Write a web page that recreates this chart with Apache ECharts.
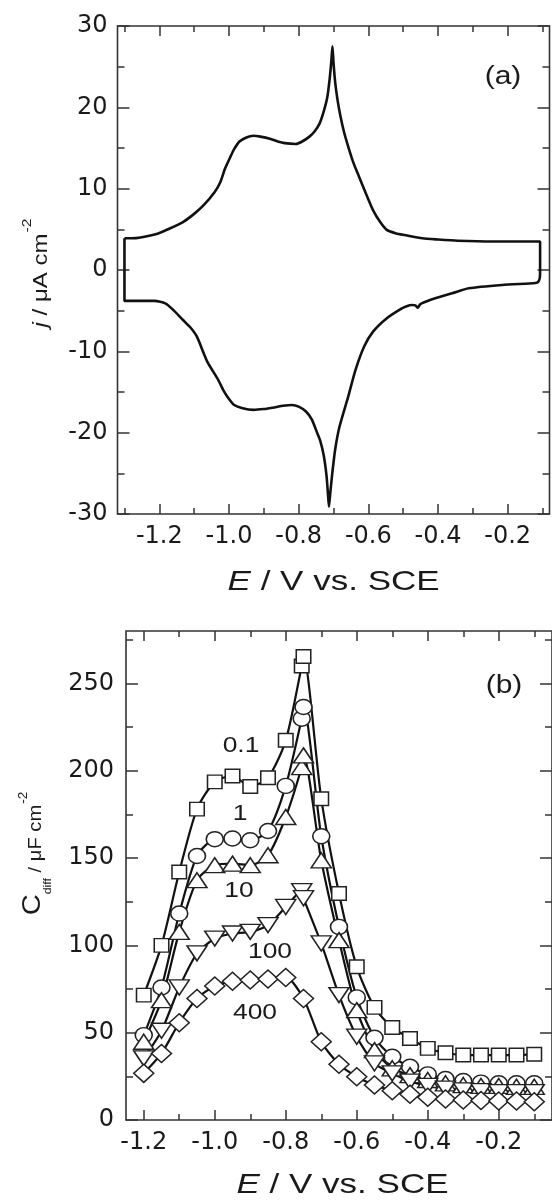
<!DOCTYPE html>
<html><head><meta charset="utf-8">
<script src="https://cdn.jsdelivr.net/npm/echarts@6/dist/echarts.min.js"></script>
<style>html,body{margin:0;padding:0;background:#fff}#c{width:552px;height:1200px}</style>
</head><body><div id="c"></div>
<script>
// ---------- Panel (a): cyclic voltammogram (closed loop, path order) ----------
const cvE = [-1.300,-1.280,-1.254,-1.203,-1.170,-1.132,-1.100,-1.072,-1.041,-1.025,-1.011,-0.995,-0.986,-0.970,-0.950,-0.930,-0.910,-0.880,-0.860,-0.840,-0.809,-0.790,-0.769,-0.755,-0.740,-0.728,-0.718,-0.711,-0.706,-0.703,-0.700,-0.695,-0.688,-0.680,-0.670,-0.658,-0.643,-0.627,-0.607,-0.587,-0.566,-0.546,-0.520,-0.496,-0.445,-0.400,-0.344,-0.243,-0.150,-0.107,
 -0.107,-0.108,-0.113,-0.120,
 -0.216,-0.312,-0.360,-0.408,-0.430,-0.447,-0.452,-0.458,-0.465,-0.475,-0.490,-0.505,-0.546,-0.587,-0.612,-0.637,-0.658,-0.683,-0.695,-0.703,-0.709,-0.713,-0.716,-0.720,-0.728,-0.738,-0.748,-0.762,-0.779,-0.800,-0.819,-0.845,-0.870,-0.900,-0.930,-0.961,-0.985,-1.001,-1.016,-1.031,-1.062,-1.092,-1.110,-1.132,-1.160,-1.183,-1.213,-1.300,-1.300];
const cvJ = [3.9,3.9,4.0,4.5,5.1,5.9,6.9,8.0,9.6,10.8,12.5,14.0,14.8,15.8,16.3,16.5,16.4,16.1,15.8,15.6,15.5,15.8,16.4,17.0,18.0,19.5,21.2,23.5,25.8,27.5,25.5,23.0,20.8,18.9,17.0,15.2,13.2,11.5,9.4,7.4,5.9,4.9,4.5,4.3,3.9,3.75,3.6,3.5,3.5,3.5,
 0,-1.0,-1.5,-1.6,
 -1.84,-2.25,-2.87,-3.48,-3.8,-4.1,-4.25,-4.65,-4.35,-4.3,-4.45,-4.75,-5.9,-7.6,-9.4,-12.3,-15.6,-19.3,-22.0,-24.8,-27.3,-29.1,-27.5,-25.3,-22.8,-21.0,-19.9,-18.4,-17.4,-16.8,-16.6,-16.7,-16.9,-17.1,-17.2,-17.0,-16.6,-15.8,-14.8,-13.5,-11.3,-8.2,-7.1,-6.15,-4.9,-4.1,-3.8,-3.8,3.9];

// ---------- Panel (b): differential capacitance ----------
const capE = [-1.2,-1.15,-1.1,-1.05,-1.0,-0.95,-0.9,-0.85,-0.8,-0.755,-0.75,-0.7,-0.65,-0.6,-0.55,-0.5,-0.45,-0.4,-0.35,-0.3,-0.25,-0.2,-0.15,-0.1];
const cap01  = [71.5,100,142,178,193.6,197,191,196,217.4,260,265.4,184,129.7,87.7,64.5,53,46.7,41,38.5,37.2,37.2,37.2,37.2,37.7];
const cap1   = [48.6,75.9,118.2,151.2,160.8,161.2,160.2,165.5,191.3,229.8,236.5,162.5,110.6,70.2,47.1,36.2,30.5,26.1,23.5,22.3,21.4,21.0,21.0,21.0];
const cap10  = [44.8,68.6,107.7,137.3,145.9,146.8,145.9,151.6,173.5,202.1,208.8,148.7,103,62.9,40.0,29.6,25.7,22.9,21,20,19.5,19.5,19,19];
const cap100 = [35.3,51.1,75.9,95.4,103.9,106.8,107.7,111.6,122,131,127,101.1,71.5,47.7,32.4,26.7,22,19.5,18,17,16.5,16,16,16];
const cap400E = [-1.2,-1.15,-1.1,-1.05,-1.0,-0.95,-0.9,-0.85,-0.8,-0.75,-0.7,-0.65,-0.6,-0.55,-0.5,-0.45,-0.4,-0.35,-0.3,-0.25,-0.2,-0.15,-0.1];
const cap400 = [26.7,38.1,55.7,69.6,76.7,79.5,80.1,80.7,81.6,69.6,44.8,31.9,24.8,20.0,16.8,14.7,13.0,12.0,11.4,11.1,10.9,10.9,10.5];
const seriesNames = ['0.1','1','10','100','400'];

// ---------- ticks ----------
const xMajorTicks = [-1.2,-1.0,-0.8,-0.6,-0.4,-0.2];
const xMinorTicksA = [-1.3,-1.1,-0.9,-0.7,-0.5,-0.3,-0.1];
const xMinorTicksB = [-1.1,-0.9,-0.7,-0.5,-0.3,-0.1];
const yMajorTicksA = [-30,-20,-10,0,10,20,30];
const yMinorTicksA = [-25,-15,-5,5,15,25];
const yMajorTicksB = [0,50,100,150,200,250];
const yMinorTicksB = [25,75,125,175,225,275];

const AX = '#333';
const TXT = '#1a1a1a';
const tickFont = {fontFamily:'DejaVu Sans', fontSize:24, color:TXT};

function xAxesFor(grid, min, max, major, minor, fmt){
  const base = {type:'value', gridIndex:grid, min, max, axisLine:{show:false, onZero:false}, splitLine:{show:false}};
  return [
    Object.assign({}, base, {position:'bottom',
      axisTick:{show:true, inside:true, length:10, customValues:major, lineStyle:{color:AX,width:1.5}},
      axisLabel:Object.assign({show:true, margin:11, customValues:major, formatter:fmt}, tickFont)}),
    Object.assign({}, base, {position:'bottom',
      axisTick:{show:true, inside:true, length:6, customValues:minor, lineStyle:{color:AX,width:1.5}},
      axisLabel:{show:false}}),
    Object.assign({}, base, {position:'top',
      axisTick:{show:true, inside:true, length:10, customValues:major, lineStyle:{color:AX,width:1.5}},
      axisLabel:{show:false}}),
    Object.assign({}, base, {position:'top',
      axisTick:{show:true, inside:true, length:6, customValues:minor, lineStyle:{color:AX,width:1.5}},
      axisLabel:{show:false}})
  ];
}
function yAxesFor(grid, min, max, major, minor, margin){
  const base = {type:'value', gridIndex:grid, min, max, axisLine:{show:false, onZero:false}, splitLine:{show:false}};
  return [
    Object.assign({}, base, {position:'left',
      axisTick:{show:true, inside:true, length:12, customValues:major, lineStyle:{color:AX,width:1.5}},
      axisLabel:Object.assign({show:true, margin:margin, customValues:major, formatter:v=>String(Math.round(v))}, tickFont)}),
    Object.assign({}, base, {position:'left',
      axisTick:{show:true, inside:true, length:7, customValues:minor, lineStyle:{color:AX,width:1.5}},
      axisLabel:{show:false}}),
    Object.assign({}, base, {position:'right',
      axisTick:{show:true, inside:true, length:12, customValues:major, lineStyle:{color:AX,width:1.5}},
      axisLabel:{show:false}}),
    Object.assign({}, base, {position:'right',
      axisTick:{show:true, inside:true, length:7, customValues:minor, lineStyle:{color:AX,width:1.5}},
      axisLabel:{show:false}})
  ];
}
const fmt1 = v => v.toFixed(1);

function zip(xs, ys){ return xs.map((x,i)=>[x, ys[i]]); }

function capSeries(name, xs, ys, symbol, size, rotate){
  return {
    name, type:'line', xAxisIndex:4, yAxisIndex:4,
    data: zip(xs, ys), smooth:0.25,
    symbol, symbolSize:size, symbolRotate:rotate||0, showSymbol:true,
    lineStyle:{color:'#111', width:2.2},
    itemStyle:{color:'#fff', borderColor:'#222', borderWidth:1.5},
    emphasis:{disabled:true}
  };
}

const F = 'Liberation Sans';
function label(text, x, y, size, sx){
  return {type:'text', x, y, scaleX:sx||1.2, z:100,
    style:{text, fill:TXT, font:`${size}px "${F}"`, align:'center', verticalAlign:'middle', textAlign:'center', textVerticalAlign:'middle'}};
}

const option = {
  animation:false,
  backgroundColor:'#fff',
  grid:[
    {left:117.5, top:26, width:432, height:488, show:true, borderColor:AX, borderWidth:1.6, backgroundColor:'transparent'},
    {left:126, top:631, width:433, height:489, show:true, borderColor:AX, borderWidth:1.6, backgroundColor:'transparent'}
  ],
  xAxis: [].concat(
    xAxesFor(0, -1.32, -0.08, xMajorTicks, xMinorTicksA, fmt1),
    xAxesFor(1, -1.25, -0.05, xMajorTicks, xMinorTicksB, fmt1)
  ),
  yAxis: [].concat(
    yAxesFor(0, -30, 30, yMajorTicksA, yMinorTicksA, 10),
    yAxesFor(1, 0, 280, yMajorTicksB, yMinorTicksB, 12)
  ),
  series:[
    {type:'line', xAxisIndex:0, yAxisIndex:0, data:zip(cvE, cvJ), showSymbol:false, symbol:'none',
     smooth:0.2, lineStyle:{color:'#111', width:2.6}},
    capSeries(seriesNames[0], capE, cap01, 'rect', [14.5,13.5]),
    capSeries(seriesNames[1], capE, cap1, 'circle', [17,15]),
    capSeries(seriesNames[2], capE, cap10, 'triangle', [20,15]),
    capSeries(seriesNames[3], capE, cap100, 'triangle', [20,15], 180),
    capSeries(seriesNames[4], cap400E, cap400, 'diamond', [20,18])
  ],
  graphic:[
    label('(a)', 503, 77, 25, 1.2),
    label('(b)', 504, 686, 25, 1.2),
    label(seriesNames[0], 241, 746, 22, 1.2),
    label(seriesNames[1], 240, 814, 22, 1.2),
    label(seriesNames[2], 239, 891, 22, 1.2),
    label(seriesNames[3], 270, 952, 22, 1.2),
    label(seriesNames[4], 255, 1013, 22, 1.2),
    {type:'text', x:333.6, y:582, scaleX:1.25, z:100,
     style:{text:'{i|E}{n| / V vs. SCE}', align:'center', verticalAlign:'middle', textAlign:'center', textVerticalAlign:'middle',
       rich:{i:{fontStyle:'italic', fontSize:28, fontFamily:F, fill:TXT}, n:{fontSize:28, fontFamily:F, fill:TXT}}}},
    {type:'text', x:342.5, y:1185, scaleX:1.25, z:100,
     style:{text:'{i|E}{n| / V vs. SCE}', align:'center', verticalAlign:'middle', textAlign:'center', textVerticalAlign:'middle',
       rich:{i:{fontStyle:'italic', fontSize:28, fontFamily:F, fill:TXT}, n:{fontSize:28, fontFamily:F, fill:TXT}}}},
    {type:'text', x:51, y:273, rotation:Math.PI/2, scaleX:1.2, z:100,
     style:{text:'{i|j}{n| / μA cm}{s|-2}', align:'center', verticalAlign:'bottom', textAlign:'center', textVerticalAlign:'bottom',
       rich:{
         i:{fontStyle:'italic', fontSize:20, lineHeight:20, verticalAlign:'bottom', fontFamily:F, fill:TXT},
         n:{fontSize:20, lineHeight:20, verticalAlign:'bottom', fontFamily:F, fill:TXT},
         s:{fontSize:13, lineHeight:13, verticalAlign:'bottom', padding:[0,0,17,1], fontFamily:F, fill:TXT}}}},
    {type:'text', x:53.5, y:853.5, rotation:Math.PI/2, scaleX:1.12, z:100,
     style:{text:'{c|C}{d|diff}{n| / μF cm}{s|-2}', align:'center', verticalAlign:'bottom', textAlign:'center', textVerticalAlign:'bottom',
       rich:{
         c:{fontSize:26, lineHeight:26, verticalAlign:'bottom', padding:[0,0,8,0], fontFamily:F, fill:TXT},
         d:{fontSize:11, lineHeight:11, verticalAlign:'bottom', fontFamily:F, fill:TXT},
         n:{fontSize:18, lineHeight:18, verticalAlign:'bottom', padding:[0,0,8,0], fontFamily:F, fill:TXT},
         s:{fontSize:12, lineHeight:12, verticalAlign:'bottom', padding:[0,0,24,1], fontFamily:F, fill:TXT}}}}
  ]
};
const chart = echarts.init(document.getElementById('c'), null, {renderer:'canvas'});
chart.setOption(option);
</script>
</body></html>
